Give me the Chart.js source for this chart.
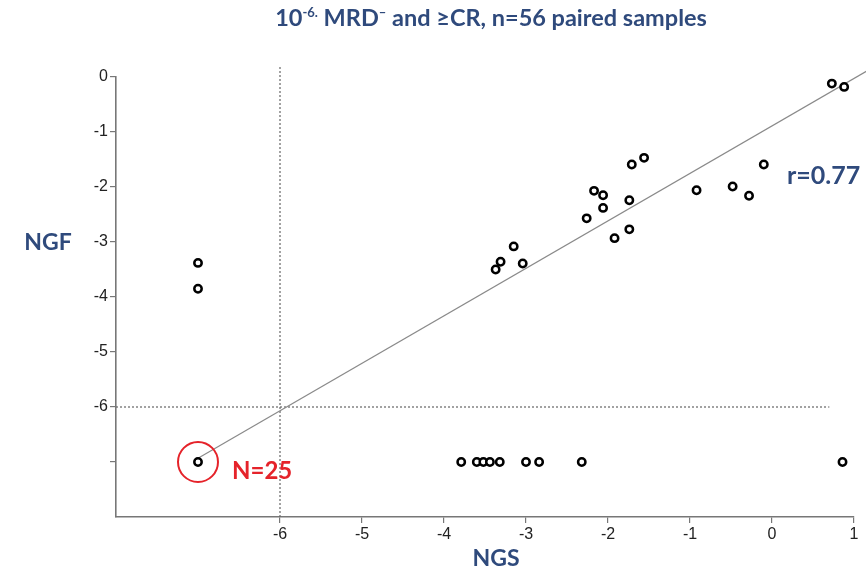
<!DOCTYPE html>
<html>
<head>
<meta charset="utf-8">
<script src="https://cdn.jsdelivr.net/npm/chart.js@4.4.1/dist/chart.umd.min.js"></script>
<style>
  html, body { margin: 0; padding: 0; background: #fff; }
  #wrap { width: 866px; height: 571px; position: relative; }
</style>
</head>
<body>
<div id="wrap"><canvas id="ngsChart" width="866" height="571"></canvas></div>
<script>
// paired samples, log10 MRD levels (NGS on x, NGF on y)
const ngsValues = [-3.37, -3.31, -3.15, -3.04, -2.26, -2.17, -2.06, -2.06, -1.92, -1.74,
  -1.74, -1.71, -1.56, -0.92, -0.48, -0.28, -0.10, 0.73, 0.88,
  -7.0, -7.0, -7.0,
  -3.79, -3.60, -3.52, -3.44, -3.32, -3.00, -2.84, -2.32, 0.86];
const ngfValues = [-3.50, -3.36, -3.08, -3.39, -2.57, -2.07, -2.15, -2.38, -2.93, -2.24,
  -2.77, -1.59, -1.47, -2.06, -1.99, -2.16, -1.59, -0.12, -0.18,
  -3.38, -3.85, -7.0,
  -7.0, -7.0, -7.0, -7.0, -7.0, -7.0, -7.0, -7.0, -7.0];

// regression line end points
const fitX = [-7, 1.17];
const fitY = [-6.93, 0.12];

// cut-off at 10^-6
const cutoff = -6;
const xTicks = [-8, -7, -6, -5, -4, -3, -2, -1, 0, 1];
const yTicks = [0, -1, -2, -3, -4, -5, -6, -7, -8];

const blue = '#2F4A7C';
const red = '#E5232A';
const axisGrey = '#777';

const points = ngsValues.map((x, i) => ({ x: x, y: ngfValues[i] }));

// Text overlay: title, axis titles, r and N labels
const labelsPlugin = {
  id: 'labels',
  afterDraw(chart) {
    const c = chart.ctx;
    c.save();
    c.textBaseline = 'alphabetic';
    c.fillStyle = blue;

    // title with superscripts
    const big = 'bold 23.5px Lato, "Open Sans", sans-serif';
    const small = 'bold 13px Lato, "Open Sans", sans-serif';
    const parts = [
      { t: '10', f: big, dy: 0 },
      { t: '-6.', f: small, dy: -9 },
      { t: ' MRD', f: big, dy: 0 },
      { t: '\u2013', f: small, dy: -9 },
      { t: ' and \u2265CR, n=56 paired samples', f: big, dy: 0 }
    ];
    let w = 0;
    parts.forEach(p => { c.font = p.f; w += c.measureText(p.t).width; });
    let x = 491 - w / 2;
    c.textAlign = 'left';
    parts.forEach(p => {
      c.font = p.f;
      c.fillText(p.t, x, 26 + p.dy);
      x += c.measureText(p.t).width;
    });

    c.font = 'bold 23px Lato, "Open Sans", sans-serif';
    c.textAlign = 'center';
    c.fillText('NGF', 48, 250);
    c.fillText('NGS', 496, 566);

    c.font = 'bold 25px Lato, "Open Sans", sans-serif';
    c.textAlign = 'left';
    c.fillText('r=0.77', 787, 184);

    c.font = 'bold 24px Lato, "Open Sans", sans-serif';
    c.fillStyle = red;
    c.fillText('N=25', 232, 479);
    c.restore();
  }
};

const ctx = document.getElementById('ngsChart').getContext('2d');
const chart = new Chart(ctx, {
  type: 'scatter',
  data: {
    datasets: [
      {
        label: 'samples',
        data: points,
        pointRadius: 3.7,
        pointBorderWidth: 2.5,
        pointBorderColor: '#000',
        pointBackgroundColor: '#fff',
        clip: false
      },
      {
        label: 'N=25 marker',
        data: [{ x: -7, y: -7 }],
        pointRadius: 20,
        pointBorderWidth: 2,
        pointBorderColor: red,
        pointBackgroundColor: 'rgba(0,0,0,0)',
        clip: false
      },
      {
        label: 'fit',
        data: fitX.map((x, i) => ({ x: x, y: fitY[i] })),
        showLine: true,
        pointRadius: 0,
        borderColor: '#8a8a8a',
        borderWidth: 1.2,
        clip: false
      },
      {
        label: 'x cutoff',
        data: [{ x: cutoff, y: -8 }, { x: cutoff, y: 0.18 }],
        showLine: true,
        pointRadius: 0,
        borderColor: '#666',
        borderWidth: 1.2,
        borderDash: [2, 2],
        clip: false
      },
      {
        label: 'y cutoff',
        data: [{ x: -8, y: cutoff }, { x: 0.7, y: cutoff }],
        showLine: true,
        pointRadius: 0,
        borderColor: '#666',
        borderWidth: 1.2,
        borderDash: [2, 2],
        clip: false
      }
    ]
  },
  options: {
    responsive: false,
    animation: false,
    events: [],
    layout: { autoPadding: false, padding: { left: 0, right: 12, top: 77, bottom: 24 } },
    plugins: { legend: { display: false }, title: { display: false }, tooltip: { enabled: false } },
    scales: {
      x: {
        type: 'linear',
        min: -8,
        max: 1,
        afterBuildTicks: axis => { axis.ticks = xTicks.map(v => ({ value: v })); },
        afterFit: axis => { axis.height = 30; },
        border: { display: true, color: axisGrey, width: 1.6 },
        grid: {
          drawOnChartArea: false,
          drawTicks: true,
          tickLength: 6,
          color: c => (c.tick && c.tick.value < -6 ? 'rgba(0,0,0,0)' : axisGrey),
          lineWidth: 1.2
        },
        ticks: {
          padding: 2,
          color: '#222',
          font: { family: '"Liberation Sans Narrow", "Arial Narrow", Arial, sans-serif', size: 16 },
          callback: v => (v >= -6 ? String(v) : '')
        }
      },
      y: {
        type: 'linear',
        min: -8,
        max: 0,
        afterBuildTicks: axis => { axis.ticks = yTicks.map(v => ({ value: v })); },
        afterFit: axis => { axis.width = 116; },
        border: { display: true, color: axisGrey, width: 1.6 },
        grid: {
          drawOnChartArea: false,
          drawTicks: true,
          tickLength: 6,
          color: c => (c.tick && c.tick.value === -8 ? 'rgba(0,0,0,0)' : axisGrey),
          lineWidth: 1.2
        },
        ticks: {
          padding: 2,
          color: '#222',
          font: { family: '"Liberation Sans Narrow", "Arial Narrow", Arial, sans-serif', size: 16 },
          callback: v => (v >= -6 ? String(Math.abs(v) < 1e-9 ? 0 : v) : '')
        }
      }
    }
  },
  plugins: [labelsPlugin]
});
</script>
</body>
</html>
